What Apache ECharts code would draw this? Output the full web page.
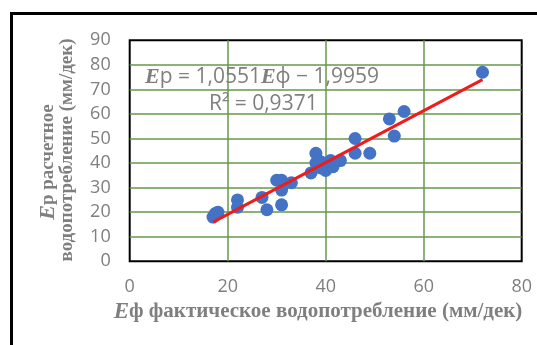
<!DOCTYPE html>
<html>
<head>
<meta charset="utf-8">
<script src="https://cdn.jsdelivr.net/npm/echarts@6/dist/echarts.min.js"></script>
<style>
  html, body { margin: 0; padding: 0; background: #fff; }
  #chart { width: 537px; height: 345px; }
</style>
</head>
<body>
<div id="chart"></div>
<script>
// Actual (Eф) vs. estimated (Eр) water consumption per decade, mm
const actualUse = [17, 17.5, 18, 22, 22, 27, 28, 31, 30, 31, 31, 33, 37, 38, 38, 39, 39, 40, 41, 41.5, 43, 46, 46, 49, 53, 54, 56, 72];
const estimatedUse = [18, 19.5, 20, 25, 22, 26, 21, 23, 33, 33, 29, 32, 36, 44, 40, 40.5, 38, 37, 41, 38.5, 41, 50, 44, 44, 58, 51, 61, 77];

// Axis ticks
const xTicks = [0, 20, 40, 60, 80];
const yTicks = [0, 10, 20, 30, 40, 50, 60, 70, 80, 90];

// Linear trend: Eр = slope * Eф + intercept
const slope = 1.0551;
const intercept = -1.9959;
const rSquared = 0.9371;

const points = actualUse.map((x, i) => [x, estimatedUse[i]]);
const xMin = Math.min(...actualUse);
const xMax = Math.max(...actualUse);
const trendLine = [[xMin, slope * xMin + intercept], [xMax, slope * xMax + intercept]];

const fmt = v => v.toFixed(4).replace('.', ',');
const GRAY = '#7f7f7f';
const SERIF = '"Liberation Serif", "DejaVu Serif", serif';
const SANS = '"Open Sans", "Liberation Sans", sans-serif';

const chart = echarts.init(document.getElementById('chart'), null, { renderer: 'canvas' });

chart.setOption({
  animation: false,
  backgroundColor: '#fff',
  grid: {
    left: 129.7, right: 15.3, top: 40.3, bottom: 83.7,
    show: true, borderColor: '#000', borderWidth: 2, backgroundColor: 'transparent'
  },
  xAxis: {
    type: 'value',
    min: xTicks[0], max: xTicks[xTicks.length - 1], interval: xTicks[1] - xTicks[0],
    axisLine: { show: false }, axisTick: { show: false },
    axisLabel: { color: GRAY, fontFamily: SANS, fontSize: 18, margin: 17 },
    splitLine: { show: true, showMinLine: false, showMaxLine: false, lineStyle: { color: '#66994c', width: 1.5 } }
  },
  yAxis: {
    type: 'value',
    min: yTicks[0], max: yTicks[yTicks.length - 1], interval: yTicks[1] - yTicks[0],
    axisLine: { show: false }, axisTick: { show: false },
    axisLabel: { color: GRAY, fontFamily: SANS, fontSize: 18, margin: 19 },
    splitLine: { show: true, showMinLine: false, showMaxLine: false, lineStyle: { color: '#66994c', width: 1.5 } }
  },
  series: [
    {
      type: 'scatter',
      data: points,
      symbolSize: 13,
      itemStyle: { color: '#4472c4', opacity: 1 },
      z: 2
    },
    {
      type: 'line',
      data: trendLine,
      symbol: 'none',
      lineStyle: { color: '#ee1c1c', width: 3 },
      z: 3
    }
  ],
  graphic: [
    // outer frame
    {
      type: 'rect', silent: true,
      shape: { x: 11.5, y: 13.5, width: 700, height: 500 },
      style: { fill: 'none', stroke: '#000', lineWidth: 3 },
      z: 10
    },
    // regression equation
    {
      type: 'text', x: 145, y: 77, z: 20,
      style: {
        text: '{e|E}{n|р = ' + fmt(slope) + '}{e|E}{n|ф − ' + fmt(-intercept) + '}',
        verticalAlign: 'middle', align: 'left',
        rich: {
          e: { fontFamily: SERIF, fontStyle: 'italic', fontWeight: 'bold', fontSize: 22, fill: GRAY },
          n: { fontFamily: SANS, fontSize: 21, fill: GRAY }
        }
      }
    },
    {
      type: 'text', x: 209, y: 104.5, z: 20,
      style: {
        text: 'R² = ' + fmt(rSquared),
        verticalAlign: 'middle', align: 'left',
        fontFamily: SANS, fontSize: 21, fill: GRAY
      }
    },
    // y-axis title (two lines)
    {
      type: 'text', x: 48, y: 162, rotation: Math.PI / 2, z: 20,
      style: {
        text: '{e|E}{b|р расчетное}',
        align: 'center', verticalAlign: 'middle',
        rich: {
          e: { fontFamily: SERIF, fontStyle: 'italic', fontWeight: 'bold', fontSize: 22, fill: GRAY },
          b: { fontFamily: SERIF, fontWeight: 'bold', fontSize: 19, fill: GRAY }
        }
      }
    },
    {
      type: 'text', x: 67, y: 150, rotation: Math.PI / 2, z: 20,
      style: {
        text: 'водопотребление (мм/дек)',
        align: 'center', verticalAlign: 'middle',
        fontFamily: SERIF, fontWeight: 'bold', fontSize: 19, fill: GRAY
      }
    },
    // x-axis title
    {
      type: 'text', x: 318, y: 312, z: 20,
      style: {
        text: '{e|E}{b|ф фактическое водопотребление (мм/дек)}',
        align: 'center', verticalAlign: 'middle',
        rich: {
          e: { fontFamily: SERIF, fontStyle: 'italic', fontWeight: 'bold', fontSize: 23, fill: GRAY },
          b: { fontFamily: SERIF, fontWeight: 'bold', fontSize: 21, fill: GRAY }
        }
      }
    }
  ]
});
</script>
</body>
</html>
